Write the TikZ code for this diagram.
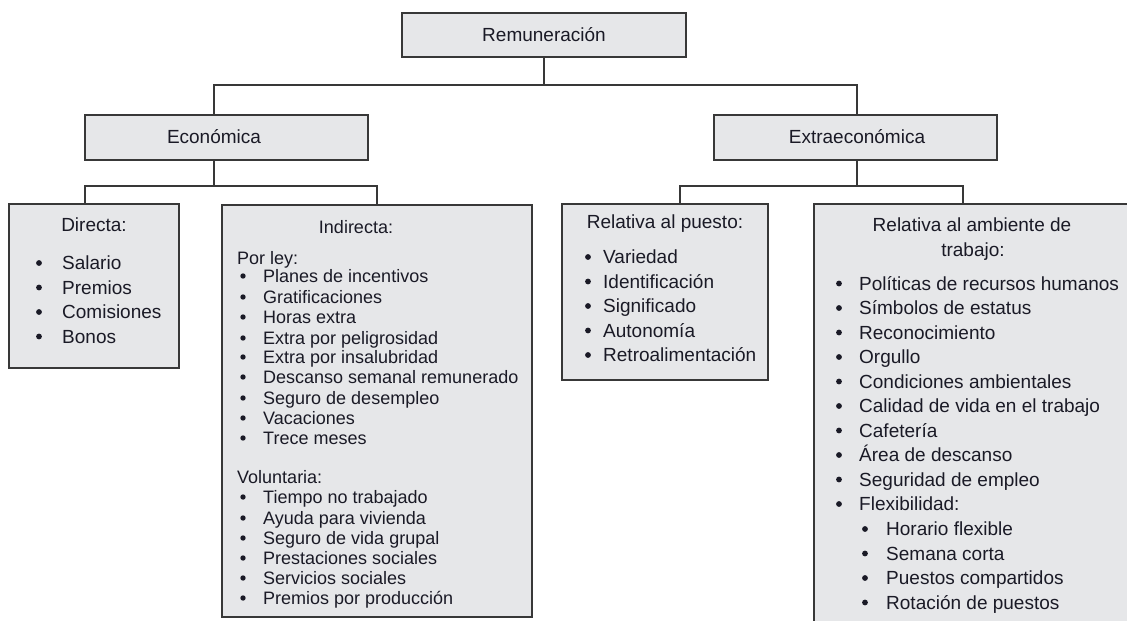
\documentclass[tikz,border=0pt]{standalone}
\usepackage{fontspec}
\setmainfont{Liberation Sans}
\definecolor{boxfill}{HTML}{E6E7E9}
\definecolor{edge}{HTML}{383838}
\definecolor{txt}{HTML}{1A1A26}
\begin{document}
\begin{tikzpicture}[x=1pt,y=-1pt,
  box/.style={draw=edge, line width=1.7pt, fill=boxfill, anchor=north west, inner sep=0pt, outer sep=0pt},
  conn/.style={draw=edge, line width=1.9pt},
  lbl/.style={font=\fontsize{19}{21}\selectfont, text=txt, inner sep=0pt, anchor=base},
  item/.style={lbl, anchor=base west},
  smallitem/.style={item, font=\fontsize{18}{20}\selectfont},
  bul/.style={fill=txt}]
\useasboundingbox (0,0) rectangle (1127,621);
\clip (0,0) rectangle (1127,621);
\fill[white] (0,0) rectangle (1127,621);

% boxes
\node[box, minimum width=284pt, minimum height=44pt] (rem) at (402,13) {};
\node[box, minimum width=283pt, minimum height=45pt] (eco) at (85,115) {};
\node[box, minimum width=283pt, minimum height=45pt] (ext) at (714,115) {};
\node[box, minimum width=170pt, minimum height=164pt] (dir) at (9,204) {};
\node[box, minimum width=310pt, minimum height=412pt] (ind) at (222,205) {};
\node[box, minimum width=206pt, minimum height=176pt] (pue) at (562,204) {};
\node[box, minimum width=340pt, minimum height=440pt] (amb) at (814,204) {};

% titles
\node[lbl] (remt) at (544,41.5) {Remuneración};
\node[lbl] (ecot) at (214,143.5) {Económica};
\node[lbl] (extt) at (857,143.5) {Extraeconómica};
\node[lbl] (dirt) at (94,231.5) {Directa:};
\node[lbl, font=\fontsize{18}{20}\selectfont] (indt) at (356,233.5) {Indirecta:};
\node[lbl] (puet) at (665,228.5) {Relativa al puesto:};
\node[lbl] (ambt1) at (972,231.5) {Relativa al ambiente de};
\node[lbl] (ambt2) at (973,256.5) {trabajo:};

% connectors
\coordinate (j0) at (544,85);
\coordinate (j1) at (214,186);
\coordinate (j2) at (857,186);
\coordinate (dirT) at (85,204);
\coordinate (indT) at (377,205);
\coordinate (pueT) at (680,204);
\coordinate (ambT) at (963,204);
\draw[conn] (rem.south) -- (rem.south |- j0);
\draw[conn] (ecot |- eco.north) |- (j0) -| (extt |- ext.north);
\draw[conn] (eco.south -| ecot) -- (j1);
\draw[conn] (dirT) |- (j1) -| (indT);
\draw[conn] (ext.south -| extt) -- (j2);
\draw[conn] (pueT) |- (j2) -| (ambT);

% Directa
\foreach \yy/\t [count=\i] in {263/Salario, 287.5/Premios, 312/Comisiones, 336.5/Bonos} {
  \fill[bul] (39,\yy) circle (2.9);
  \node[item] (d\i) at (62,{\yy+6.7}) {\t};
}

% Indirecta
\node[smallitem] (porley) at (237,264.5) {Por ley:};
\foreach \yy/\t [count=\i] in {276/Planes de incentivos, 297/Gratificaciones, 317/Horas extra, 338/Extra por peligrosidad, 357/Extra por insalubridad, 377/Descanso semanal remunerado, 398/Seguro de desempleo, 418/Vacaciones, 438/Trece meses} {
  \fill[bul] (243,\yy) circle (2.7);
  \node[smallitem] (l\i) at (263,{\yy+6.4}) {\t};
}
\node[smallitem] (volun) at (237,483.5) {Voluntaria:};
\foreach \yy/\t [count=\i] in {497/Tiempo no trabajado, 518/Ayuda para vivienda, 538/Seguro de vida grupal, 558/Prestaciones sociales, 578/Servicios sociales, 598/Premios por producción} {
  \fill[bul] (243,\yy) circle (2.7);
  \node[smallitem] (v\i) at (263,{\yy+6.4}) {\t};
}

% Relativa al puesto
\foreach \yy/\t [count=\i] in {257/Variedad, 281.5/Identificación, 306/Significado, 330.5/Autonomía, 355/Retroalimentación} {
  \fill[bul] (588,\yy) circle (2.9);
  \node[item] (p\i) at (603,{\yy+6.7}) {\t};
}

% Relativa al ambiente
\foreach \yy/\t [count=\i] in {283.5/Políticas de recursos humanos, 308/Símbolos de estatus, 332.5/Reconocimiento, 357/Orgullo, 381.5/Condiciones ambientales, 406/Calidad de vida en el trabajo, 430.5/Cafetería, 455/Área de descanso, 479.5/Seguridad de empleo, 504/Flexibilidad:} {
  \fill[bul] (839,\yy) circle (2.9);
  \node[item] (a\i) at (859,{\yy+6.7}) {\t};
}
\foreach \yy/\t [count=\i] in {529/Horario flexible, 553.5/Semana corta, 578/Puestos compartidos, 602.5/Rotación de puestos} {
  \fill[bul] (865,\yy) circle (2.9);
  \node[item] (f\i) at (886,{\yy+6.7}) {\t};
}
\end{tikzpicture}
\end{document}
